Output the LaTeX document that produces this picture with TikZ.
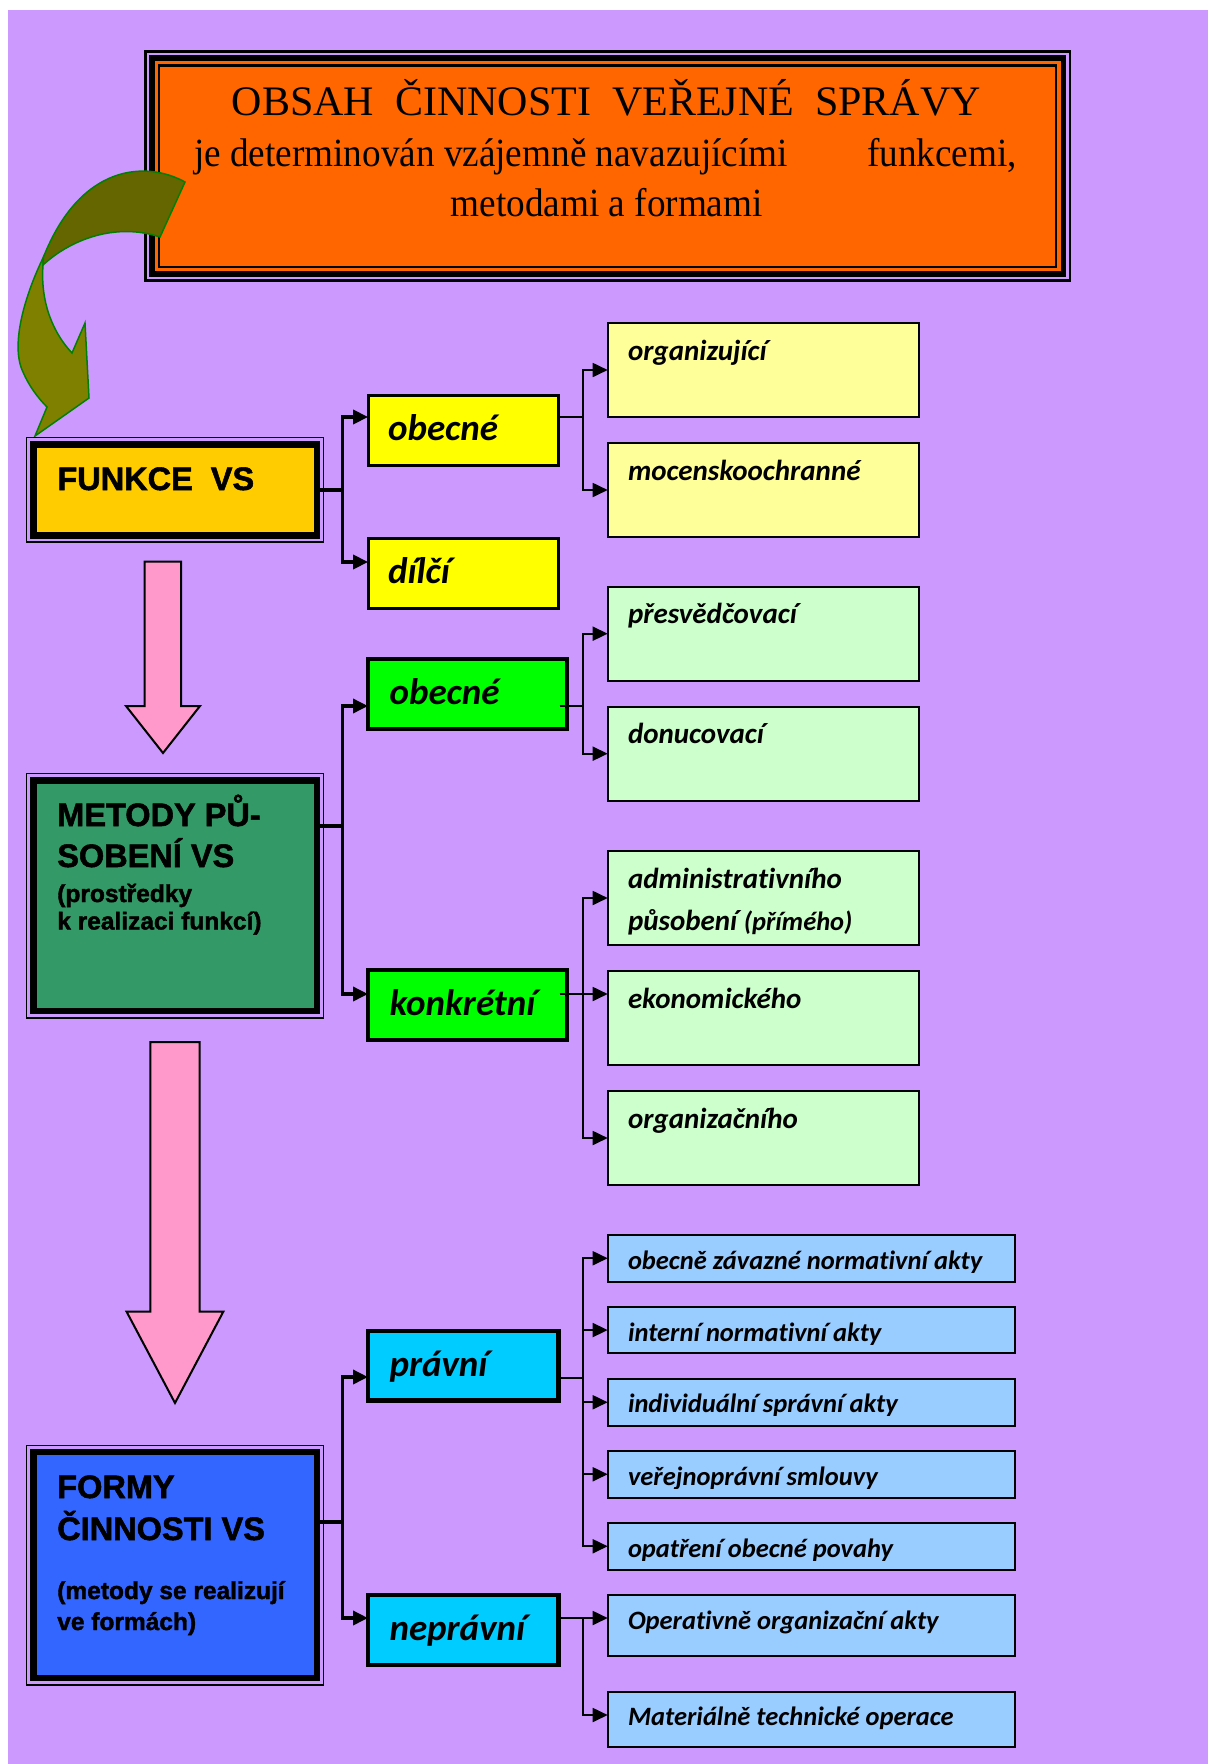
\documentclass[tikz,border=0pt]{standalone}
\usepackage{fontspec}
\setmainfont{Liberation Serif}
\newfontfamily\serifcond[FakeStretch=0.93]{Liberation Serif}
\newfontfamily\headsans[FakeBold=1.6]{Liberation Sans}
\newfontfamily\calib[Ligatures=NoCommon]{Carlito}
\usetikzlibrary{arrows.meta,calc}

\definecolor{bgpurple}{HTML}{CC99FF}
\definecolor{titleorange}{HTML}{FF6600}
\definecolor{funkceyel}{HTML}{FFCC00}
\definecolor{cyellow}{HTML}{FFFF00}
\definecolor{lyellow}{HTML}{FFFF99}
\definecolor{metgreen}{HTML}{339966}
\definecolor{cgreen}{HTML}{00FF00}
\definecolor{lgreen}{HTML}{CCFFCC}
\definecolor{formblue}{HTML}{3366FF}
\definecolor{ccyan}{HTML}{00CCFF}
\definecolor{lblue}{HTML}{99CCFF}
\definecolor{cpink}{HTML}{FF99CC}
\definecolor{olivedark}{HTML}{666600}
\definecolor{olivelight}{HTML}{808000}
\definecolor{olivelinegreen}{HTML}{008000}

\newcommand{\vsHead}{\headsans\bfseries\fontsize{32.5}{34}\selectfont}
\newcommand{\vsHeadSm}{\headsans\bfseries\fontsize{24.5}{26}\selectfont}
\newcommand{\vsBig}{\calib\bfseries\itshape\fontsize{37}{40}\selectfont}
\newcommand{\vsMid}{\calib\bfseries\itshape\fontsize{29}{32}\selectfont}
\newcommand{\vsMidReg}{\calib\itshape\fontsize{26.5}{30}\selectfont}
\newcommand{\vsSmall}{\calib\bfseries\itshape\fontsize{26.5}{30}\selectfont}

\begin{document}
\begin{tikzpicture}[x=1pt,y=-1pt,
  every node/.style={inner sep=0pt,outer sep=0pt},
  mainbox/.style={draw=black,line width=6.8pt,rectangle,anchor=north west,minimum width=283.3pt},
  outerline/.style={draw=black,line width=1.5pt},
  midbox/.style={draw=black,rectangle,anchor=north west},
  ybox/.style={midbox,line width=3pt,fill=cyellow,minimum width=189.9pt,minimum height=69.5pt},
  gbox/.style={midbox,line width=4.5pt,fill=cgreen,minimum width=199.2pt,minimum height=70pt},
  cbox/.style={midbox,line width=4.5pt,fill=ccyan,minimum width=190.5pt,minimum height=69.7pt},
  subbox/.style={midbox,line width=2pt,minimum width=311.3pt,minimum height=94pt},
  actbox/.style={midbox,line width=2pt,fill=lblue,minimum width=407.1pt,minimum height=46.5pt},
  trunk/.style={line width=3.5pt},
  twig/.style={line width=1.8pt},
  tip/.style={-{Triangle[length=15pt,width=14pt]}},
  txt/.style={anchor=base west},
  blockarrow/.style={draw=black,line width=2pt,fill=cpink,line join=miter}
]
\useasboundingbox (0,0) rectangle (1208,1764);
\fill[white] (0,0) rectangle (1208,1764);
\fill[bgpurple] (8,10) rectangle (1208,1764);

% ---------- title frame ----------
\draw[line width=2.5pt] (145.25,51.25) rectangle (1069.75,280.5);
\node[draw=black,line width=5.5pt,fill=titleorange,anchor=north west,
      minimum width=911.5pt,minimum height=216pt] (title) at (151.75,57.75) {};
\draw[line width=2.2pt] (159.3,65.5) rectangle (1055.7,266.7);
\node[anchor=base] (ttl1) at (606.5,115)
  {\fontsize{42}{42}\selectfont OBSAH\ \ ČINNOSTI\ \ VEŘEJNÉ\ \ SPRÁVY};
\node[anchor=base west] (ttl2a) at (194,166.7)
  {\serifcond\fontsize{40}{40}\selectfont je determinován vzájemně navazujícími};
\node[anchor=base east] (ttl2b) at (1017,166.7)
  {\serifcond\fontsize{40}{40}\selectfont funkcemi,};
\node[anchor=base] (ttl3) at (606.7,216)
  {\serifcond\fontsize{40}{40}\selectfont metodami a formami};

% ---------- curved olive arrow ----------
\filldraw[fill=olivelight,draw=olivelinegreen,line width=1.5pt,line join=miter]
  (43.5,257) .. controls (25,295) and (10,345) .. (23,372)
  .. controls (29,386) and (38,398) .. (47,407)
  -- (35,436) -- (89,398) -- (85,323) -- (72,353)
  .. controls (55,335) and (40,305) .. (43,265) -- cycle;
\filldraw[fill=olivedark,draw=olivelinegreen,line width=1.5pt,line join=miter]
  (185,182) .. controls (145,160) and (80,165) .. (43.5,257)
  -- (43,265) .. controls (70,240) and (115,222) .. (160,237) -- cycle;

% ---------- pink block arrows ----------
\draw[blockarrow] (144.5,561.5) -- (181,561.5) -- (181,706) -- (200,706)
  -- (163,753) -- (126,706) -- (144.5,706) -- cycle;
\draw[blockarrow] (150.3,1042) -- (199.7,1042) -- (199.7,1311.5) -- (223.4,1311.5)
  -- (175,1403) -- (126.5,1311.5) -- (150.3,1311.5) -- cycle;

% ---------- left main boxes ----------
\node[mainbox,fill=funkceyel,minimum height=91pt] (funkce) at (33.7,444.3) {};
\draw[outerline] (26.45,437.45) rectangle (323.55,541.95);
\node[txt] (tfunkce) at (57.4,490) {\vsHead FUNKCE\ \ VS};

\node[mainbox,fill=metgreen,minimum height=230.7pt] (metody) at (33.7,780.3) {};
\draw[outerline] (26.45,773.45) rectangle (323.55,1017.95);
\node[txt] (tmet1) at (57.3,826) {\vsHead METODY PŮ-};
\node[txt] (tmet2) at (57.3,867) {\vsHead SOBENÍ VS};
\node[txt] (tmet3) at (57.3,902) {\vsHeadSm (prostředky};
\node[txt] (tmet4) at (57.3,929.5) {\vsHeadSm k realizaci funkcí)};

\node[mainbox,fill=formblue,minimum height=226pt] (formy) at (33.7,1452) {};
\draw[outerline] (26.45,1445.35) rectangle (323.55,1684.85);
\node[txt] (tfor1) at (57.3,1498) {\vsHead FORMY};
\node[txt] (tfor2) at (57.3,1540) {\vsHead ČINNOSTI VS};
\node[txt] (tfor3) at (57.3,1599) {\vsHeadSm (metody se realizují};
\node[txt] (tfor4) at (57.3,1630) {\vsHeadSm ve formách)};

% ---------- middle boxes ----------
\node[ybox] (fobec) at (368.1,395.5) {};
\node[txt] (tfobec) at (388,440) {\vsBig obecné};
\node[ybox] (dilci) at (368.1,538.5) {};
\node[txt] (tdilci) at (388,583.3) {\vsBig dílčí};

\node[gbox] (gobec) at (368,659.2) {};
\node[txt] (tgobec) at (389.5,704) {\vsBig obecné};
\node[gbox] (konkr) at (368,970.2) {};
\node[txt] (tkonkr) at (389.5,1015) {\vsBig konkrétní};

\node[cbox] (pravni) at (368,1331) {};
\node[txt] (tpravni) at (389.5,1376) {\vsBig právní};
\node[cbox] (neprav) at (368,1595.2) {};
\node[txt] (tneprav) at (389.5,1640.7) {\vsBig neprávní};

% ---------- right boxes ----------
\node[subbox,fill=lyellow] (org) at (607.7,323) {};
\node[txt] (torg) at (628,360) {\vsMid organizující};
\node[subbox,fill=lyellow] (moc) at (607.7,443) {};
\node[txt] (tmoc) at (628,480) {\vsMid mocenskoochranné};

\node[subbox,fill=lgreen] (pres) at (607.7,586.7) {};
\node[txt] (tpres) at (628,623) {\vsMid přesvědčovací};
\node[subbox,fill=lgreen] (donuc) at (607.7,706.7) {};
\node[txt] (tdonuc) at (628,743) {\vsMid donucovací};

\node[subbox,fill=lgreen] (adm) at (607.7,851) {};
\node[txt] (tadm1) at (628,888) {\vsMid administrativního};
\node[txt] (tadm2) at (628,930) {\vsMid působení {\vsMidReg (přímého)}};
\node[subbox,fill=lgreen] (eko) at (607.7,971) {};
\node[txt] (teko) at (628,1008) {\vsMid ekonomického};
\node[subbox,fill=lgreen] (orgn) at (607.7,1091) {};
\node[txt] (torgn) at (628,1128) {\vsMid organizačního};

\node[actbox] (b1) at (607.7,1235) {};
\node[actbox] (b2) at (607.7,1306.8) {};
\node[actbox] (b3) at (607.7,1379) {};
\node[actbox] (b4) at (607.7,1451) {};
\node[actbox] (b5) at (607.7,1523) {};
\node[actbox,minimum height=60.5pt] (b6) at (607.7,1595) {};
\node[actbox,minimum height=55.5pt] (b7) at (607.7,1691.5) {};

% the five legal acts: their labels are cut just under the baseline
\begin{scope}
  \clip (607.7,1236) rectangle (1014.8,1272);
  \node[txt] (tb1) at (628,1269.6) {\vsSmall obecně závazné normativní akty};
\end{scope}
\begin{scope}
  \clip (607.7,1308) rectangle (1014.8,1344);
  \node[txt] (tb2) at (628,1341.5) {\vsSmall interní normativní akty};
\end{scope}
\begin{scope}
  \clip (607.7,1380) rectangle (1014.8,1415.2);
  \node[txt] (tb3) at (628,1412.7) {\vsSmall individuální správní akty};
\end{scope}
\begin{scope}
  \clip (607.7,1452) rectangle (1014.8,1488.1);
  \node[txt] (tb4) at (628,1485.6) {\vsSmall veřejnoprávní smlouvy};
\end{scope}
\begin{scope}
  \clip (607.7,1524) rectangle (1014.8,1560);
  \node[txt] (tb5) at (628,1557.5) {\vsSmall opatření obecné povahy};
\end{scope}
\node[txt] (tb6) at (628,1629.7) {\vsSmall Operativně organizační akty};
\node[txt] (tb7) at (628,1725) {\vsSmall Materiálně technické operace};

% ---------- connectors: first level ----------
\coordinate (fj) at (342.4,489.8);
\draw[trunk] (funkce.east) -- (fj);
\draw[trunk,tip] (fj) |- (fobec.west |- 0,417);
\draw[trunk,tip] (fj) |- (dilci.west |- 0,562);

\coordinate (mj) at (342.4,826);
\draw[trunk] (metody.east |- mj) -- (mj);
\draw[trunk,tip] (mj) |- (gobec.west |- 0,706);
\draw[trunk,tip] (mj) |- (konkr.west |- 0,994);

\coordinate (oj) at (342.4,1522);
\draw[trunk] (formy.east |- oj) -- (oj);
\draw[trunk,tip] (oj) |- (pravni.west |- 0,1377);
\draw[trunk,tip] (oj) |- (neprav.west |- 0,1618);

% ---------- connectors: second level ----------
\coordinate (yj) at (583,417);
\draw[twig] (fobec.east |- yj) -- (yj);
\draw[twig,tip] (yj) |- (org.west);
\draw[twig,tip] (yj) |- (moc.west);

\coordinate (gs) at (559.5,706);
\coordinate (gj) at (583,706);
\draw[twig] (gs) -- (gj);
\draw[twig,tip] (gj) |- (pres.west);
\draw[twig,tip] (gj) |- (donuc.west);

\coordinate (ks) at (559.5,994);
\coordinate (kj) at (583,994);
\draw[twig,tip] (ks) -- (eko.west |- ks);
\draw[twig,tip] (kj) |- (adm.west);
\draw[twig,tip] (kj) |- (orgn.west);

\coordinate (pj) at (583,1378);
\draw[twig] (pravni.east |- pj) -- (pj);
\foreach \b in {b1,b2,b3,b4,b5} \draw[twig,tip] (pj) |- (\b.west);

\coordinate (nj) at (583,1618);
\draw[twig,tip] (neprav.east |- nj) -- (b6.west |- nj);
\draw[twig,tip] (nj) |- (b7.west |- 0,1715);
\end{tikzpicture}
\end{document}
